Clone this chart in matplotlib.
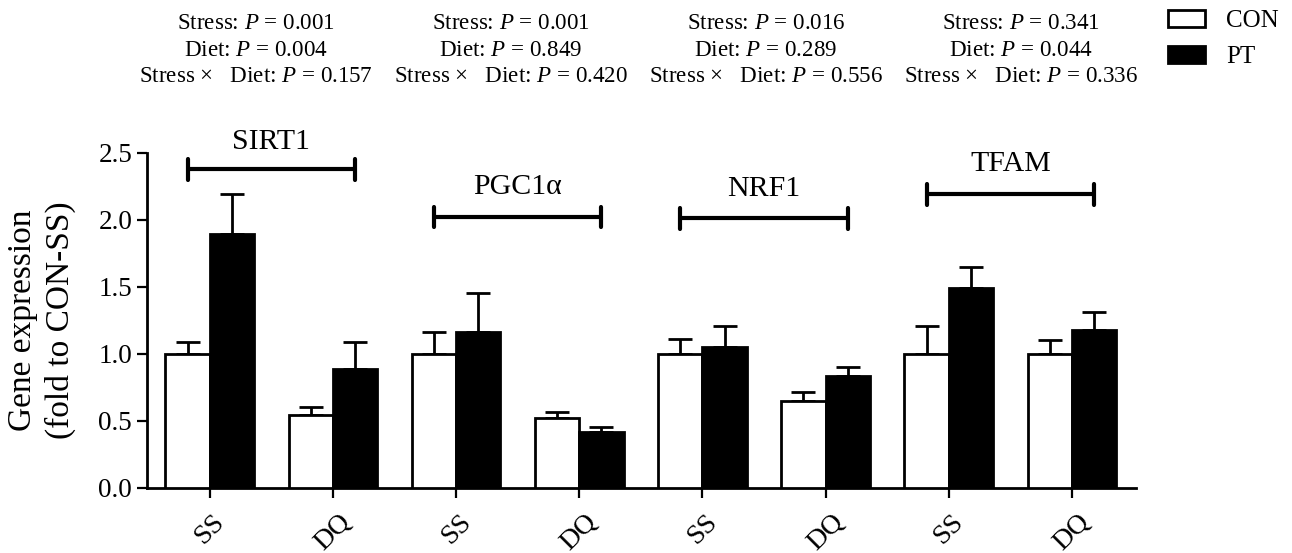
import matplotlib
matplotlib.use("Agg")
import matplotlib.pyplot as plt
import matplotlib.transforms as mtransforms
from matplotlib.patches import Patch
import numpy as np

plt.rcParams['font.family'] = ['Liberation Serif', 'DejaVu Serif']
plt.rcParams['mathtext.fontset'] = 'custom'
plt.rcParams['mathtext.rm'] = 'Liberation Serif'
plt.rcParams['mathtext.it'] = 'Liberation Serif:italic'

# ---- data ----
genes = ['SIRT1', 'PGC1α', 'NRF1', 'TFAM']
conditions = ['SS', 'DQ', 'SS', 'DQ', 'SS', 'DQ', 'SS', 'DQ']
con_mean = [1.00, 0.54, 1.00, 0.52, 1.00, 0.647, 1.00, 1.00]
con_err = [0.09, 0.06, 0.16, 0.045, 0.11, 0.065, 0.21, 0.10]
pt_mean = [1.895, 0.886, 1.165, 0.415, 1.048, 0.834, 1.488, 1.18]
pt_err = [0.30, 0.20, 0.29, 0.035, 0.16, 0.07, 0.16, 0.13]
p_stress = ['0.001', '0.001', '0.016', '0.341']
p_diet = ['0.004', '0.849', '0.289', '0.044']
p_inter = ['0.157', '0.420', '0.556', '0.336']
series_labels = ['CON', 'PT']
yticks = [0.0, 0.5, 1.0, 1.5, 2.0, 2.5]

# ---- layout ----
W, H = 1292, 553
fig = plt.figure(figsize=(W / 100, H / 100), dpi=100)
ax = fig.add_axes([147 / W, 1 - 487.7 / H, (1136 - 147) / W, (487.7 - 152.7) / H])

x = np.arange(len(conditions))
bw = 0.36
lw = 2.0

ax.bar(x - bw / 2, con_mean, bw, color='white', edgecolor='black', linewidth=lw, zorder=3)
ax.bar(x + bw / 2, pt_mean, bw, color='black', edgecolor='black', linewidth=lw, zorder=3)
ax.errorbar(x - bw / 2, con_mean, yerr=[np.zeros(len(x)), con_err], fmt='none',
            ecolor='black', elinewidth=lw, capsize=8.5, capthick=lw, zorder=2)
ax.errorbar(x + bw / 2, pt_mean, yerr=[np.zeros(len(x)), pt_err], fmt='none',
            ecolor='black', elinewidth=lw, capsize=8.5, capthick=lw, zorder=2)

ax.set_xlim(-0.51, 7.52)
ax.set_ylim(0, 2.5)
ax.set_yticks(yticks)
ax.set_yticklabels([f'{v:.1f}' for v in yticks])
ax.set_xticks(x)
ax.set_xticklabels(conditions, rotation=45, ha='center')
offset = mtransforms.ScaledTranslation(-6 / 100, 0, fig.dpi_scale_trans)
for lab in ax.get_xticklabels():
    lab.set_transform(lab.get_transform() + offset)

for s in ['top', 'right']:
    ax.spines[s].set_visible(False)
for s in ['left', 'bottom']:
    ax.spines[s].set_linewidth(2.0)
ax.tick_params(axis='y', direction='out', length=7.2, width=1.6, labelsize=19.5, pad=3.5)
ax.tick_params(axis='x', direction='out', length=7.5, width=1.6, labelsize=20, pad=8)

ax.set_ylabel('Gene expression\n(fold to CON-SS)', fontsize=24, linespacing=1.25)
ax.yaxis.set_label_coords(-0.072, 0.5)

# brackets & gene labels
br_y = [2.375, 2.02, 2.01, 2.19]
lab_y = [2.528, 2.19, 2.176, 2.36]
half = 0.078
for g, gene in enumerate(genes):
    x1 = 2 * g - bw / 2
    x2 = 2 * g + 1 + bw / 2
    y = br_y[g]
    ax.plot([x1, x2], [y, y], color='black', lw=3, clip_on=False, solid_capstyle='butt')
    ax.plot([x1, x1], [y - half, y + half], color='black', lw=3, clip_on=False, solid_capstyle='round')
    ax.plot([x2, x2], [y - half, y + half], color='black', lw=3, clip_on=False, solid_capstyle='round')
    ax.text(2 * g + 0.5, lab_y[g], gene, ha='center', va='baseline', fontsize=21.5, clip_on=False)

# P-value texts
txt_x = [0.374, 2.444, 4.515, 6.585]
line_y = [3.42, 3.225, 3.025]
for g in range(4):
    lines = [f'Stress: $P$ = {p_stress[g]}',
             f'Diet: $P$ = {p_diet[g]}',
             f'Stress ×   Diet: $P$ = {p_inter[g]}']
    for ly, t in zip(line_y, lines):
        ax.text(txt_x[g], ly, t, ha='center', va='baseline', fontsize=16.6, clip_on=False)

handles = [Patch(facecolor='white', edgecolor='black', linewidth=2.0),
           Patch(facecolor='black', edgecolor='black', linewidth=2.0)]
fig.legend(handles, series_labels, loc='upper left', bbox_to_anchor=(1168 / W, 1 - 10 / H),
           frameon=False, fontsize=18, handlelength=1.48, handleheight=0.68,
           handletextpad=0.85, labelspacing=0.55, borderpad=0, borderaxespad=0)

fig.savefig('out.png', dpi=100)
